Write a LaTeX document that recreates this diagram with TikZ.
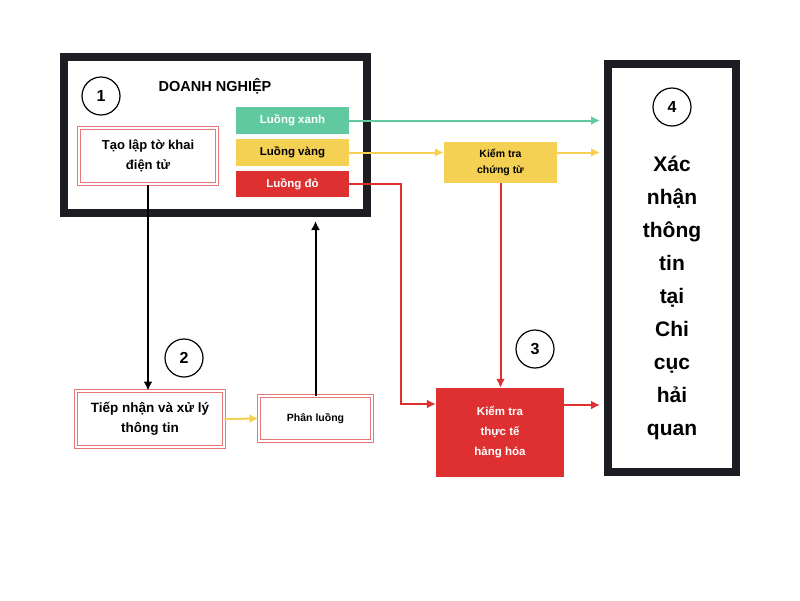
\documentclass[tikz,border=0pt]{standalone}
\usepackage{fontspec}
\setmainfont{Liberation Sans}
\usetikzlibrary{positioning,arrows.meta,calc}

\definecolor{darkframe}{HTML}{1D1D24}
\definecolor{flowgreen}{HTML}{60C9A0}
\definecolor{flowyellow}{HTML}{F5D153}
\definecolor{flowred}{HTML}{DE3030}
\definecolor{pinkline}{HTML}{E87878}

\tikzset{
  frame/.style={draw=darkframe,line width=8pt,rectangle,inner sep=0pt},
  numcircle/.style={draw,circle,line width=1.2pt,minimum size=38pt,inner sep=0pt,font=\fontsize{16}{16}\selectfont\bfseries},
  stepbox/.style={draw=pinkline,double=white,double distance=1.2pt,line width=1pt,rectangle,align=center,inner sep=0pt},
  flowbox/.style={rectangle,align=center,inner sep=0pt,font=\fontsize{11.5}{14}\selectfont\bfseries},
  arr/.style={line width=2pt,-{Latex[length=9pt,width=9pt]}}
}

\begin{document}
\begin{tikzpicture}[x=1pt,y=-1pt]
\useasboundingbox (0,0) rectangle (800,600);
% enterprise frame
\node[frame,minimum width=303pt,minimum height=156pt] (biz) at (215.5,135) {};
\node[numcircle] (n1) at (101,96) {1};
\node[font=\fontsize{14.5}{17}\selectfont\bfseries] (bizTitle) at (215,86) {DOANH NGHIỆP};
\node[stepbox,minimum width=138pt,minimum height=56pt,font=\fontsize{13}{20}\selectfont\bfseries] (tao) at (148,156) {Tạo lập tờ khai\\điện tử};
\node[flowbox,fill=flowgreen,text=white,minimum width=113pt,minimum height=27pt] (xanh) at (292.5,120.5) {Luồng xanh};
\node[flowbox,fill=flowyellow,minimum width=113pt,minimum height=27pt] (vang) at (292.5,152.5) {Luồng vàng};
\node[flowbox,fill=flowred,text=white,minimum width=113pt,minimum height=26pt] (do) at (292.5,184) {Luồng đỏ};
% customs side
\node[frame,minimum width=128pt,minimum height=408pt] (xn) at (672,268) {};
\node[numcircle] (n4) at (672,107) {4};
\node[align=center,font=\fontsize{21}{33}\selectfont\bfseries] (xnText) at (672,298) {Xác\\nhận\\thông\\tin\\tại\\Chi\\cục\\hải\\quan};
\node[flowbox,fill=flowyellow,minimum width=113pt,minimum height=41pt,font=\fontsize{10.5}{16}\selectfont\bfseries] (ktct) at (500.5,162.5) {Kiểm tra\\chứng từ};
\node[flowbox,fill=flowred,text=white,minimum width=128pt,minimum height=89pt,font=\fontsize{11.5}{20}\selectfont\bfseries] (kttt) at (500,432.5) {Kiểm tra\\thực tế\\hàng hóa};
\node[numcircle] (n3) at (535,349) {3};
% processing
\node[stepbox,minimum width=148pt,minimum height=56pt,font=\fontsize{13.5}{20}\selectfont\bfseries] (tiep) at (150,419) {Tiếp nhận và xử lý\\thông tin};
\node[stepbox,minimum width=113pt,minimum height=45pt,font=\fontsize{10.5}{13}\selectfont\bfseries] (phan) at (315.5,418.5) {Phân luồng};
\node[numcircle] (n2) at (184,358) {2};

% connectors
\draw[arr,flowgreen,shorten >=4pt] (xanh.east) -- (xanh.east -| xn.west);
\draw[arr,flowyellow] (vang.east) -- (vang.east -| ktct.west);
\draw[arr,flowyellow,shorten >=4pt] (vang.east -| ktct.east) -- (vang.east -| xn.west);
\draw[arr,flowred] (do.east) -- ++(52,0) |- ([yshift=28.5pt]kttt.west);
\draw[arr,flowred] (ktct.south) -- (ktct.south |- kttt.north);
\draw[arr,flowred,shorten >=4pt] ([yshift=27.5pt]kttt.east) -- ([yshift=27.5pt]kttt.east -| xn.west);
\draw[arr,black] (tao.south) -- (tao.south |- tiep.north);
\draw[arr,flowyellow] (tiep.east) -- (phan.west);
\draw[arr,black,shorten >=4pt] (phan.north) -- (phan.north |- biz.south);
\end{tikzpicture}
\end{document}
